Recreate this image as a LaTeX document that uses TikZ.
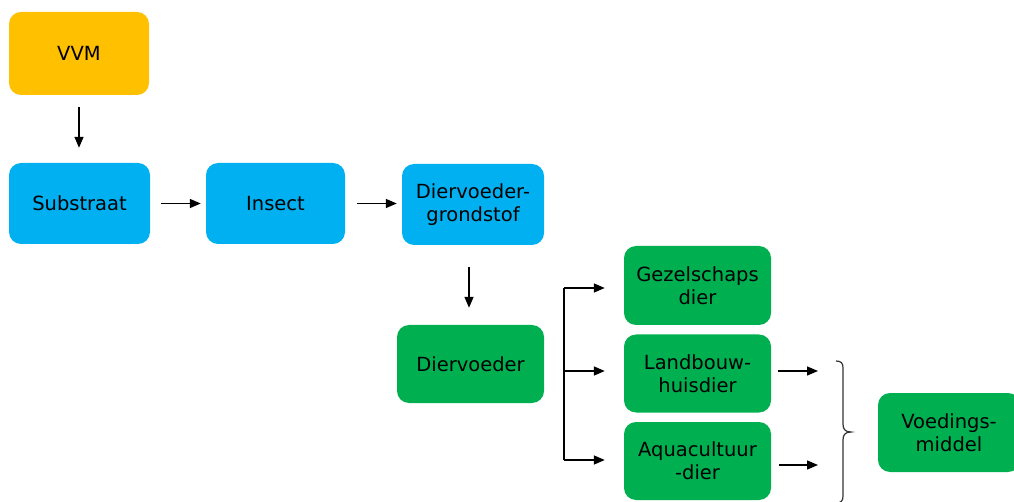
\documentclass[tikz,border=0pt]{standalone}
\usepackage{fontspec}
\setmainfont{DejaVu Sans}
\usetikzlibrary{arrows.meta,calc}
\definecolor{vvmc}{HTML}{FFC000}
\definecolor{bluec}{HTML}{00B0F0}
\definecolor{greenc}{HTML}{00B050}
\begin{document}
\begin{tikzpicture}[x=1pt,y=-1pt,
  box/.style={rectangle,rounded corners=12pt,inner sep=0pt,align=center,
    font=\fontsize{19.5}{23}\selectfont,text=black},
  yellowbox/.style={box,fill=vvmc},
  bluebox/.style={box,fill=bluec},
  greenbox/.style={box,fill=greenc},
  arr/.style={line width=1.4pt,-{Triangle[length=11pt,width=9pt]}},
  plain/.style={line width=1.4pt}]
\clip (0,0) rectangle (1014,502);
\fill[white] (0,0) rectangle (1014,502);
\node[yellowbox,minimum width=140pt,minimum height=83pt] (vvm) at (79,53.5) {VVM};
\node[bluebox,minimum width=141pt,minimum height=81pt] (sub) at (79.5,203.5) {Substraat};
\node[bluebox,minimum width=139pt,minimum height=81pt] (ins) at (275.5,203.5) {Insect};
\node[bluebox,minimum width=142pt,minimum height=81pt] (dgs) at (473,204.5) {Diervoeder-\\grondstof};
\node[greenbox,minimum width=147pt,minimum height=78pt] (dv) at (470.5,364) {Diervoeder};
\node[greenbox,minimum width=147pt,minimum height=79pt] (gez) at (697.5,285.5) {Gezelschaps\\dier};
\node[greenbox,minimum width=147pt,minimum height=78pt] (lan) at (697.5,373.5) {Landbouw-\\huisdier};
\node[greenbox,minimum width=147pt,minimum height=78pt] (aqu) at (697.5,461) {Aquacultuur\\-dier};
\node[greenbox,minimum width=142pt,minimum height=79pt] (voe) at (949,432.5) {Voedings-\\middel};
% arrows
\draw[arr,shorten <=12pt,shorten >=15pt] (vvm.south) -- (vvm.south |- sub.north);
\draw[arr,shorten <=11pt,shorten >=5pt] (sub.east) -- (ins.west);
\draw[arr,shorten <=12pt,shorten >=5pt] (ins.east) -- (ins.east -| dgs.west);
\draw[arr] ($(dgs.south)+(-4,22)$) -- ($(dgs.south |- dv.north)+(-4,-17)$);
% branch
\coordinate (bt) at (564,288);
\coordinate (bm) at (564,371);
\coordinate (bb) at (564,460);
\draw[plain] (bt) -- (bb);
\draw[arr,shorten >=19pt] (bt) -- (bt -| gez.west);
\draw[arr,shorten >=19pt] (bm) -- (bm -| lan.west);
\draw[arr,shorten >=19pt] (bb) -- (bb -| aqu.west);
% to brace
\coordinate (e1) at (818,371);
\coordinate (e2) at (818,465);
\draw[arr] ($(lan.east|-e1)+(7,0)$) -- (e1);
\draw[arr] ($(aqu.east|-e2)+(8,0)$) -- (e2);
% brace
\draw[line width=1.2pt,color=black!80]
  (836,361) .. controls (841,361) and (843,363) .. (843,368)
  -- (843,424) .. controls (843,429) and (845,432) .. (851,432)
  .. controls (845,432) and (843,435) .. (843,440)
  -- (843,496) .. controls (843,501) and (841,503) .. (836,503);
\end{tikzpicture}
\end{document}
